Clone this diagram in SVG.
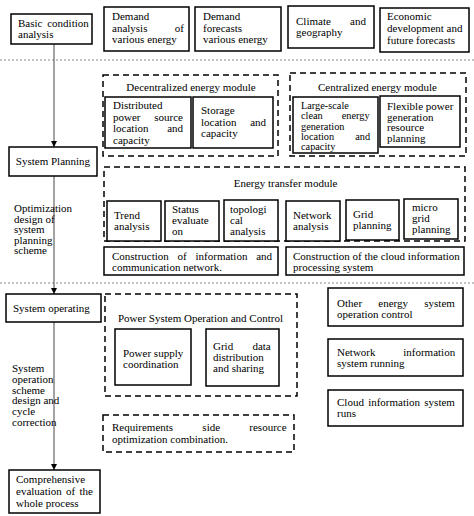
<svg xmlns="http://www.w3.org/2000/svg" width="474" height="516" viewBox="0 0 474 516">
<defs>
<style>
.box{fill:#fff;stroke:#000;stroke-width:1.5}
.dash{fill:none;stroke:#000;stroke-width:1.5;stroke-dasharray:6 4}
.sep{stroke:#888;stroke-width:1;stroke-dasharray:2 2}
.link{stroke:#666;stroke-width:1.2;fill:none}
text{font-family:"Liberation Serif","Times New Roman",serif;font-size:11px;fill:#000}
.c{text-anchor:middle}
.sm{font-size:10.3px}
</style>
<marker id="ah" viewBox="0 0 10 10" refX="10" refY="5" markerWidth="6" markerHeight="6" orient="auto" markerUnits="userSpaceOnUse"><path d="M0,0 L10,5 L0,10 z" fill="#000"/></marker>
</defs>
<rect width="474" height="516" fill="#fff"/>

<g id="separators">
<line class="sep" x1="0" y1="60" x2="474" y2="60"/>
<line class="sep" x1="0" y1="283" x2="474" y2="283"/>
</g>

<g id="connectors">
<line class="link" x1="54" y1="44" x2="54" y2="147" marker-end="url(#ah)"/>
<line class="link" x1="54" y1="176" x2="54" y2="294" marker-end="url(#ah)"/>
<line class="link" x1="54" y1="322" x2="54" y2="470" marker-end="url(#ah)"/>
</g>

<!-- Top row -->
<g id="basic">
<rect class="box" x="11" y="14" width="81" height="30"/>
<text x="18" y="27" word-spacing="2">Basic condition</text>
<text x="18" y="38">analysis</text>
</g>
<g id="demand-analysis">
<rect class="box" x="104" y="7" width="85" height="44"/>
<text x="112" y="20">Demand</text>
<text x="112" y="31.5" word-spacing="24.5">analysis of</text>
<text x="112" y="43">various energy</text>
</g>
<g id="demand-forecasts">
<rect class="box" x="195" y="7" width="86" height="44"/>
<text x="203" y="20">Demand</text>
<text x="203" y="31.5">forecasts</text>
<text x="203" y="43">various energy</text>
</g>
<g id="climate">
<rect class="box" x="288" y="6" width="86" height="42"/>
<text x="296" y="25" word-spacing="16.5">Climate and</text>
<text x="296" y="36">geography</text>
</g>
<g id="economic">
<rect class="box" x="380" y="8" width="89" height="44"/>
<text x="387" y="20">Economic</text>
<text x="387" y="32">development and</text>
<text x="387" y="44">future forecasts</text>
</g>

<!-- Left column -->
<g id="system-planning">
<rect class="box" x="9" y="147" width="88" height="29"/>
<text class="c" x="53" y="165">System Planning</text>
</g>
<g id="optimization-label">
<text x="14" y="212">Optimization</text>
<text x="14" y="222.5">design of</text>
<text x="14" y="233">system</text>
<text x="14" y="243.5">planning</text>
<text x="14" y="254">scheme</text>
</g>
<g id="system-operating">
<rect class="box" x="6" y="294" width="95" height="28"/>
<text x="13" y="312">System operating</text>
</g>
<g id="operation-label">
<text x="12" y="372">System</text>
<text x="12" y="382.8">operation</text>
<text x="12" y="393.6">scheme</text>
<text x="12" y="404.4">design and</text>
<text x="12" y="415.2">cycle</text>
<text x="12" y="426">correction</text>
</g>
<g id="comprehensive">
<rect class="box" x="9" y="470" width="91" height="43"/>
<text x="16" y="483">Comprehensive</text>
<text x="16" y="495" word-spacing="1.5">evaluation of the</text>
<text x="16" y="507">whole process</text>
</g>

<!-- Decentralized module -->
<g id="decentralized-module">
<rect class="dash" x="103" y="75" width="175" height="81"/>
<text class="c" x="191" y="91">Decentralized energy module</text>
</g>
<g id="distributed">
<rect class="box" x="105" y="97" width="86" height="51"/>
<text x="113" y="109">Distributed</text>
<text x="113" y="120.5" word-spacing="11">power source</text>
<text x="113" y="132" word-spacing="16">location and</text>
<text x="113" y="143.5">capacity</text>
</g>
<g id="storage">
<rect class="box" x="193" y="97" width="80" height="51"/>
<text x="201" y="114">Storage</text>
<text x="201" y="125.5" word-spacing="11">location and</text>
<text x="201" y="137">capacity</text>
</g>

<!-- Centralized module -->
<g id="centralized-module">
<rect class="dash" x="290" y="73" width="176" height="83"/>
<text class="c" x="377.5" y="91">Centralized energy module</text>
</g>
<g id="large-scale">
<rect class="box" x="293" y="97" width="85" height="56"/>
<text class="sm" x="301" y="109">Large-scale</text>
<text class="sm" x="301" y="119.3" word-spacing="16.5">clean energy</text>
<text class="sm" x="301" y="129.6">generation</text>
<text class="sm" x="301" y="139.9" word-spacing="18.5">location and</text>
<text class="sm" x="301" y="150.2">capacity</text>
</g>
<g id="flexible">
<rect class="box" x="380" y="96" width="80" height="51"/>
<text x="387" y="110">Flexible power</text>
<text x="387" y="120.5">generation</text>
<text x="387" y="131">resource</text>
<text x="387" y="141.5">planning</text>
</g>

<!-- Energy transfer module -->
<g id="energy-transfer-module">
<rect class="dash" x="104" y="167" width="361" height="74"/>
<text class="c" x="285.5" y="187">Energy transfer module</text>
</g>
<g id="trend">
<rect class="box" x="107" y="201" width="54" height="40"/>
<text x="114" y="219">Trend</text>
<text x="114" y="230">analysis</text>
</g>
<g id="status">
<rect class="box" x="165" y="201" width="54" height="40"/>
<text x="172" y="213">Status</text>
<text x="172" y="224">evaluate</text>
<text x="172" y="235">on</text>
</g>
<g id="topological">
<rect class="box" x="224" y="200" width="54" height="41"/>
<text x="230" y="213">topologi</text>
<text x="230" y="224">cal</text>
<text x="230" y="235">analysis</text>
</g>
<g id="network-analysis">
<rect class="box" x="286" y="201" width="54" height="40"/>
<text x="293" y="219">Network</text>
<text x="293" y="230">analysis</text>
</g>
<g id="grid-planning">
<rect class="box" x="346" y="200" width="53" height="40"/>
<text x="353" y="218">Grid</text>
<text x="353" y="229">planning</text>
</g>
<g id="micro-grid">
<rect class="box" x="404" y="199" width="54" height="40"/>
<text x="412" y="211">micro</text>
<text x="412" y="222">grid</text>
<text x="412" y="233">planning</text>
</g>
<g id="info-network">
<rect class="box" x="104" y="247" width="174" height="28"/>
<text x="112" y="260" word-spacing="6">Construction of information and</text>
<text x="112" y="271">communication network.</text>
</g>
<g id="cloud-processing">
<rect class="box" x="286" y="247" width="178" height="28"/>
<text x="293" y="260">Construction of the cloud information</text>
<text x="293" y="271">processing system</text>
</g>

<!-- Operation section -->
<g id="power-system-module">
<rect class="dash" x="105" y="294" width="192" height="102"/>
<text class="c" x="200.5" y="322">Power System Operation and Control</text>
</g>
<g id="power-supply">
<rect class="box" x="115" y="329" width="76" height="56"/>
<text x="123" y="357">Power supply</text>
<text x="123" y="368">coordination</text>
</g>
<g id="grid-data">
<rect class="box" x="206" y="329" width="73" height="57"/>
<text x="213" y="350" word-spacing="16.5">Grid data</text>
<text x="213" y="361">distribution</text>
<text x="213" y="372">and sharing</text>
</g>
<g id="other-energy">
<rect class="box" x="328" y="288" width="135" height="38"/>
<text x="337" y="307" word-spacing="13.5">Other energy system</text>
<text x="337" y="318">operation control</text>
</g>
<g id="network-info">
<rect class="box" x="328" y="339" width="135" height="37"/>
<text x="337" y="356" word-spacing="25">Network information</text>
<text x="337" y="367">system running</text>
</g>
<g id="cloud-runs">
<rect class="box" x="328" y="390" width="135" height="36"/>
<text x="337" y="406" word-spacing="1.5">Cloud information system</text>
<text x="337" y="417">runs</text>
</g>
<g id="requirements">
<rect class="dash" x="103" y="415" width="191" height="37"/>
<text x="112" y="431" word-spacing="26.5">Requirements side resource</text>
<text x="112" y="443">optimization combination.</text>
</g>
</svg>
